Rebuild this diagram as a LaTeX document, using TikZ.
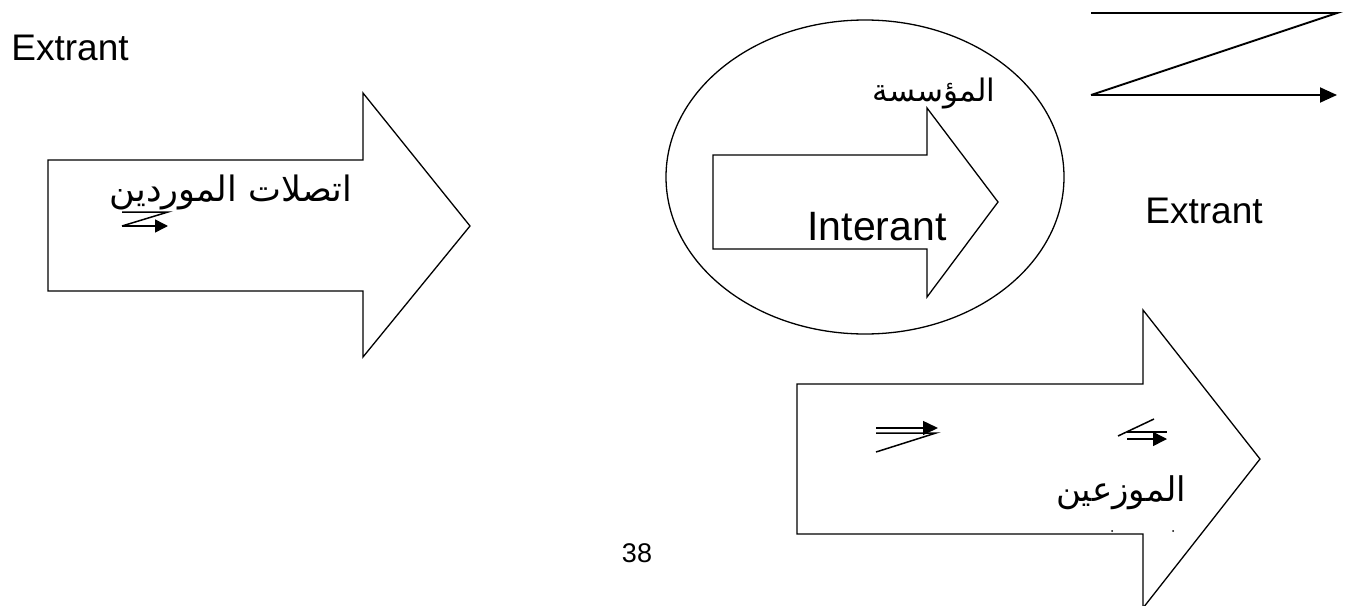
\documentclass[tikz,border=0pt]{standalone}
\usepackage{fontspec}
\setmainfont{Liberation Sans}
\newfontfamily\arabicfont[Script=Arabic]{DejaVu Sans}
\TeXXeTstate=1
\usetikzlibrary{arrows.meta}
\begin{document}
\begin{tikzpicture}[x=1pt,y=-1pt,
  bigarrow/.style={draw=black, line width=1.3pt, line join=miter},
  zline/.style={draw=black, line width=1.9pt},
  smallz/.style={draw=black, line width=1.5pt},
  lbl/.style={inner sep=0pt, anchor=base, font=\fontsize{37}{40}\selectfont},
  arlbl/.style={inner sep=0pt, anchor=base}]
\useasboundingbox (0,0) rectangle (1349,605);
\fill[white] (0,0) rectangle (1349,605);
\begin{scope}
\clip (0,0) rectangle (1349,605);
% left block arrow
\draw[bigarrow] (48,160) -- (363,160) -- (363,93) -- (470,226) -- (363,357) -- (363,291) -- (48,291) -- cycle;
% ellipse and inner arrow
\draw[bigarrow] (865,177) ellipse [x radius=199, y radius=157];
\draw[bigarrow] (713,155) -- (927,155) -- (927,108) -- (998,202) -- (927,297) -- (927,249) -- (713,249) -- cycle;
% bottom block arrow
\draw[bigarrow] (797,384) -- (1143,384) -- (1143,310) -- (1260,459) -- (1143,608) -- (1143,534) -- (797,534) -- cycle;
\end{scope}
% top-right Z arrow
\coordinate (z1) at (1091,13);
\coordinate (z2) at (1337,13);
\coordinate (z3) at (1091,95);
\coordinate (z4) at (1337,95);
\draw[zline] (z1) -- (z2) -- (z3);
\draw[zline,-{Triangle[length=17pt,width=15pt]}] (z3) -- (z4);
% small Z in left arrow
\coordinate (a1) at (122,212);
\coordinate (a2) at (168,212);
\coordinate (a3) at (122,226);
\coordinate (a4) at (168,226);
\draw[smallz] (a1) -- (a2) -- (a3);
\draw[smallz,-{Triangle[length=13pt,width=13pt]}] (a3) -- (a4);
% small arrows in bottom block arrow
\coordinate (b1) at (876,433);
\coordinate (b2) at (936,433);
\coordinate (b3) at (876,452);
\coordinate (b4) at (876,428);
\coordinate (b5) at (938,428);
\draw[smallz] (b1) -- (b2) -- (b3);
\draw[smallz,-{Triangle[length=15pt,width=14pt]}] (b4) -- (b5);
\coordinate (c1) at (1154,419);
\coordinate (c2) at (1118,436);
\coordinate (c3) at (1127,432);
\coordinate (c4) at (1167,432);
\coordinate (c5) at (1127,439);
\coordinate (c6) at (1167,439);
\draw[smallz] (c1) -- (c2);
\draw[smallz] (c3) -- (c4);
\draw[smallz,-{Triangle[length=14pt,width=14pt]}] (c5) -- (c6);
% texts
\node[lbl] (ext1) at (70,60) {Extrant};
\node[lbl] (ext2) at (1204,223) {Extrant};
\node[inner sep=0pt, anchor=base, font=\fontsize{41}{44}\selectfont] (inter) at (877,240) {Interant};
\node[inner sep=0pt, anchor=base, font=\fontsize{27}{30}\selectfont] (page) at (637,562) {38};
\node[arlbl, font=\arabicfont\fontsize{35}{38}\selectfont] (supp) at (231,201) {\beginR اتصلات الموردين\endR};
\node[arlbl, font=\arabicfont\fontsize{31}{34}\selectfont] (firm) at (934,101) {\beginR المؤسسة\endR};
\node[arlbl, font=\arabicfont\fontsize{34}{37}\selectfont] (dist) at (1121,501) {\beginR الموزعين\endR};
\fill (1112,531) circle (1pt);
\fill (1173,531) circle (1pt);
\end{tikzpicture}
\end{document}
